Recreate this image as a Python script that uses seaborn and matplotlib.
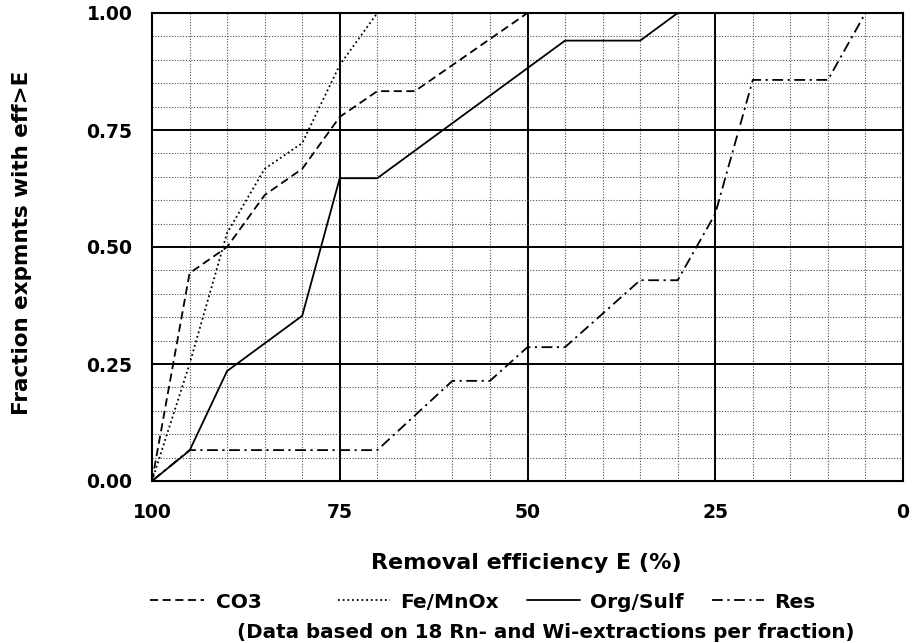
import numpy as np
import pandas as pd
import matplotlib
matplotlib.use("Agg")
import matplotlib.pyplot as plt
import seaborn as sns
from matplotlib.lines import Line2D
from matplotlib.ticker import MultipleLocator

# ---- data ----
E_co3 = [100, 95, 90, 85, 80, 75, 70, 65, 50, 0]
F_co3 = [0.0, 0.444, 0.50, 0.611, 0.667, 0.778, 0.833, 0.833, 1.0, 1.0]

E_fe = [100, 95, 90, 85, 80, 75, 70, 0]
F_fe = [0.0, 0.25, 0.53, 0.667, 0.722, 0.889, 1.0, 1.0]

E_org = [100, 95, 90, 80, 75, 70, 45, 35, 30, 0]
F_org = [0.0, 0.065, 0.235, 0.353, 0.647, 0.647, 0.941, 0.941, 1.0, 1.0]

E_res = [100, 95, 70, 60, 55, 50, 45, 35, 30, 25, 20, 10, 5, 0]
F_res = [0.0, 0.066, 0.066, 0.214, 0.214, 0.286, 0.286, 0.429, 0.429, 0.571, 0.857, 0.857, 1.0, 1.0]

series_names = ["CO3", "Fe/MnOx", "Org/Sulf", "Res"]
x_ticks = [100, 75, 50, 25, 0]
y_ticks = [0.0, 0.25, 0.50, 0.75, 1.00]

x_label = "Removal efficiency E (%)"
y_label = "Fraction expmnts with eff>E"
footnote = "(Data based on 18 Rn- and Wi-extractions per fraction)"

df = pd.concat([
    pd.DataFrame({"E": e, "F": f, "series": n})
    for e, f, n in zip([E_co3, E_fe, E_org, E_res], [F_co3, F_fe, F_org, F_res], series_names)
], ignore_index=True)

sns.set_theme(style="white")
plt.rcParams["font.family"] = ["DejaVu Sans"]
plt.rcParams["text.color"] = "black"
plt.rcParams["xtick.color"] = "black"
plt.rcParams["ytick.color"] = "black"
plt.rcParams["axes.labelcolor"] = "black"

W, H = 915, 643
fig = plt.figure(figsize=(W / 100, H / 100), dpi=100)
L, R, T, B = 152, 903, 13, 481
ax = fig.add_axes([L / W, 1 - B / H, (R - L) / W, (B - T) / H])

dash_styles = {
    "CO3": (4.5, 2.5),
    "Fe/MnOx": (1.0, 1.6),
    "Org/Sulf": "",
    "Res": (6, 2.5, 1.2, 2.5),
}
LW = 1.3
sns.lineplot(data=df, x="E", y="F", style="series", style_order=series_names,
             dashes=dash_styles, color="black", linewidth=LW,
             estimator=None, sort=False, legend=False, ax=ax, zorder=3)

ax.set_xlim(100, 0)
ax.set_ylim(0, 1)
ax.set_xticks(x_ticks)
ax.set_yticks(y_ticks)
ax.xaxis.set_minor_locator(MultipleLocator(5))
ax.yaxis.set_minor_locator(MultipleLocator(0.05))
ax.set_xticklabels([str(v) for v in x_ticks])
ax.set_yticklabels([f"{v:.2f}" for v in y_ticks])

ax.grid(which="minor", color="0.3", linestyle=(0, (1, 1.5)), linewidth=0.8)
ax.grid(which="major", color="black", linestyle="-", linewidth=1.4)
ax.tick_params(which="both", length=0, colors="black")
ax.tick_params(axis="x", pad=16, labelsize=13.5)
ax.tick_params(axis="y", pad=14, labelsize=13.5)
for lbl in ax.get_xticklabels() + ax.get_yticklabels():
    lbl.set_fontweight("bold")
    lbl.set_color("black")
ax.set_xlabel("")
ax.set_ylabel("")
for s in ax.spines.values():
    s.set_visible(True)
    s.set_color("black")
    s.set_linewidth(1.5)

fig.text(526 / W, 1 - 563 / H, x_label, ha="center", va="center",
         fontsize=16, fontweight="bold", color="black")
fig.text(22 / W, 1 - 243 / H, y_label, ha="center", va="center",
         rotation=90, fontsize=15.5, fontweight="bold", color="black")
fig.text(546 / W, 1 - 633 / H, footnote, ha="center", va="center",
         fontsize=14.3, fontweight="bold", color="black")

handles = [Line2D([], [], color="black", lw=LW, linestyle="-" if dash_styles[n] == "" else (0, dash_styles[n]))
           for n in series_names]
prop = {"weight": "bold", "size": 14.5}
leg_y = 1 - 602 / H
leg1 = fig.legend(handles[:1], series_names[:1], loc="center left",
                  bbox_to_anchor=(150 / W, leg_y), frameon=False,
                  handlelength=2.7, handletextpad=0.6, borderpad=0,
                  borderaxespad=0, prop=prop, labelcolor="black")
leg2 = fig.legend(handles[1:], series_names[1:], loc="center left", ncol=3,
                  bbox_to_anchor=(338 / W, leg_y), frameon=False,
                  handlelength=2.6, handletextpad=0.5, columnspacing=1.4,
                  borderpad=0, borderaxespad=0, prop=prop, labelcolor="black")

fig.savefig("out.png", dpi=100)
